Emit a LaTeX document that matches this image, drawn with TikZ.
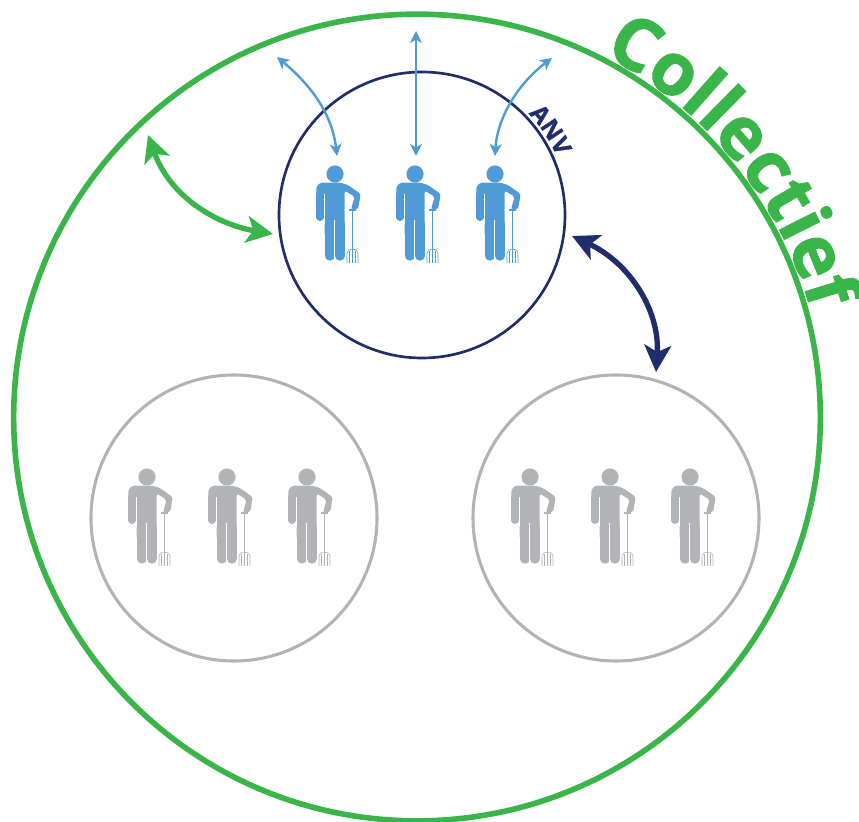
\documentclass[tikz,border=0pt]{standalone}
\usepackage{fontspec}
\usetikzlibrary{arrows.meta,decorations.text}
\newfontfamily\labelfont[BoldFeatures={FakeBold=1.2}]{Open Sans}
\definecolor{kgreen}{HTML}{39B54A}
\definecolor{kblue}{HTML}{4F9BD6}
\definecolor{knavy}{HTML}{1F2D6B}
\definecolor{kgrey}{HTML}{B1B3B6}
\tikzset{
	groupcircle/.style={circle,draw=#1,line width=2.3pt,minimum size=214.5pt,inner sep=0pt},
	thinarrow/.style={kblue,line width=1.8pt,{Stealth[length=9pt,width=9pt,inset=2.5pt]}-{Stealth[length=9pt,width=9pt,inset=2.5pt]}},
	thickarrow/.style={#1,line width=4pt,{Stealth[length=20pt,width=20pt,inset=5pt]}-{Stealth[length=20pt,width=20pt,inset=5pt]}},
	pics/farmer/.style={code={
		\fill[#1] (0,0) circle (8.6);
		\fill[#1,rounded corners=1.5pt] (-18.7,-25) [rounded corners=5pt] -- (-18.7,-8.7) -- (9.7,-8.7) [rounded corners=1.5pt] -- (25.7,-20) -- (23,-35.5) -- (16,-35.5) -- (19.7,-22.7) -- (9.7,-16.7) [sharp corners] -- (9.7,-60) -- (-10.3,-60) -- (-10.3,-25) -- cycle;
		\draw[#1,line width=5.5pt,line cap=round] (-15,-20) -- (-15,-43.3);
		\draw[#1,line width=7.5pt,line cap=round] (-5.3,-50) -- (-5.3,-81.7);
		\draw[#1,line width=7.5pt,line cap=round] (4.7,-50) -- (4.7,-81.7);
		\draw[white,line width=.5pt] (-11,-20) -- (-11,-50);
		\draw[white,line width=.5pt] (-.3,-46) -- (-.3,-88);
		\draw[#1,line width=1.2pt] (17.3,-36.5) -- (17.3,-75);
		\draw[#1,line width=.9pt] (14,-36) -- (21,-36);
		\draw[#1,line width=.45pt] (12,-89) -- (12,-79) to[out=90,in=180] (17.3,-75) to[out=0,in=90] (23,-79) -- (23,-89);
		\draw[#1,line width=.45pt] (14.7,-89) -- (14.7,-77) (17.3,-89) -- (17.3,-75) (20,-89) -- (20,-77);
		\coordinate (-top) at (0,-.5);
	}}
}
\begin{document}
\begin{tikzpicture}[x=.75pt,y=.75pt]
	\useasboundingbox (0,0) rectangle (859,821);
	% circles
	\node[circle,draw=kgreen,line width=4.2pt,minimum size=605pt,inner sep=0pt] (collectief) at (417,403.5) {};
	\node[groupcircle=knavy,line width=2pt] (anv) at (422,606) {};
	\node[groupcircle=kgrey] (left) at (234,303) {};
	\node[groupcircle=kgrey] (right) at (616,303) {};
	% people
	\pic (blueA) at (335,647) {farmer=kblue};
	\pic (blueB) at (415,647) {farmer=kblue};
	\pic (blueC) at (495,647) {farmer=kblue};
	\pic (leftA) at (147,344) {farmer=kgrey};
	\pic (leftB) at (227,344) {farmer=kgrey};
	\pic (leftC) at (307,344) {farmer=kgrey};
	\pic (rightA) at (530,344) {farmer=kgrey};
	\pic (rightB) at (610,344) {farmer=kgrey};
	\pic (rightC) at (690,344) {farmer=kgrey};
	% arrows
	\coordinate (outA) at (277,764);
	\coordinate (outB) at (416,790);
	\coordinate (outC) at (552,763);
	\coordinate (inA) at (337,665);
	\coordinate (inB) at (416,665);
	\coordinate (inC) at (495,665);
	\coordinate (greenT) at (148,686);
	\coordinate (greenB) at (273,587);
	\coordinate (navyT) at (572,585);
	\coordinate (navyB) at (656,449);
	\draw[thinarrow] (outA) .. controls (318,730) and (333,700) .. (inA);
	\draw[thinarrow] (outB) -- (inB);
	\draw[thinarrow] (outC) .. controls (515,735) and (497,700) .. (inC);
	\draw[thickarrow=kgreen] (greenT) .. controls (170,625) and (215,597) .. (greenB);
	\draw[thickarrow=knavy] (navyT) .. controls (630,558) and (660,510) .. (navyB);
	% curved labels
	\path[decorate,decoration={text along path,text align=center,
		text={|\labelfont\fontsize{54.5}{54.5}\bfseries\color{kgreen}|Collectief}}]
		(417,403.5) ++(68:408) arc[start angle=68,end angle=10,radius=408];
	\path[decorate,decoration={text along path,text align=center,
		text={|\labelfont\fontsize{18}{18}\bfseries\color{knavy}|ANV}}]
		(422,606) ++(52:147) arc[start angle=52,end angle=15,radius=147];
\end{tikzpicture}
\end{document}
